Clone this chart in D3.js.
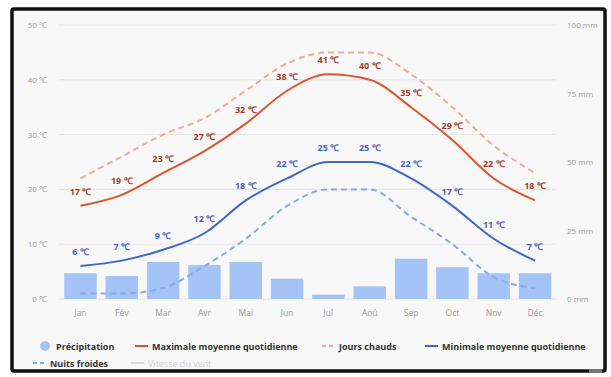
<!DOCTYPE html>
<html>
<head>
<meta charset="utf-8">
<script src="https://cdn.jsdelivr.net/npm/d3@7"></script>
<style>
  body { margin: 0; background: #fff; font-family: "Open Sans", sans-serif; }
  .tick line { display: none; }
  .domain { display: none; }
</style>
</head>
<body>
<script>
var w = 611,
  h = 377;

var months = ['Jan', 'Fév', 'Mar', 'Avr', 'Mai', 'Jun', 'Jul', 'Aoû', 'Sep', 'Oct', 'Nov', 'Déc'];
var precip = [9.4, 8.4, 13.5, 12.4, 13.5, 7.4, 1.6, 4.6, 14.7, 11.6, 9.4, 9.4];
var maxTemp = [17, 19, 23, 27, 32, 38, 41, 40, 35, 29, 22, 18];
var minTemp = [6, 7, 9, 12, 18, 22, 25, 25, 22, 17, 11, 7];
var hotDays = [22, 26, 30, 33, 38, 43, 45, 45, 41, 35, 28, 23];
var coldNights = [1, 1, 2, 6, 11, 17, 20, 20, 15, 10, 4, 2];
var tempTicks = [0, 10, 20, 30, 40, 50];
var rainTicks = [0, 25, 50, 75, 100];

var svg = d3.select('body').append('svg')
  .attr('width', w)
  .attr('height', h);

// frame
svg.append('rect')
  .attr('x', 12).attr('y', 9)
  .attr('width', 593).attr('height', 362)
  .attr('rx', 2)
  .attr('fill', '#f8f8f8')
  .attr('stroke', '#111')
  .attr('stroke-width', 3.5);
svg.append('rect')
  .attr('x', 589).attr('y', 369).attr('width', 13).attr('height', 4)
  .attr('fill', '#777');

var x = d3.scaleBand()
  .domain(months)
  .range([59.8, 555.7])
  .paddingInner(0.215)
  .paddingOuter(0.1075);

var y = d3.scaleLinear().domain([0, 50]).range([299, 25]);
var yRain = d3.scaleLinear().domain([0, 100]).range([299, 25]);

var cx = function (d, i) { return x(months[i]) + x.bandwidth() / 2; };

// grid
svg.append('g').selectAll('line')
  .data(tempTicks)
  .enter().append('line')
  .attr('x1', 59).attr('x2', 556)
  .attr('y1', function (d) { return y(d); })
  .attr('y2', function (d) { return y(d); })
  .attr('stroke', '#e4e4e4')
  .attr('stroke-width', 1);

// axes
var left = svg.append('g')
  .attr('transform', 'translate(50,0)')
  .call(d3.axisLeft(y).tickValues(tempTicks).tickSize(0).tickPadding(3)
    .tickFormat(function (d) { return d + ' ℃'; }));
var right = svg.append('g')
  .attr('transform', 'translate(564,0)')
  .call(d3.axisRight(yRain).tickValues(rainTicks).tickSize(0).tickPadding(3)
    .tickFormat(function (d) { return d + ' mm'; }));
var bottom = svg.append('g')
  .attr('transform', 'translate(0,307)')
  .call(d3.axisBottom(x).tickSize(0).tickPadding(3));

[left, right, bottom].forEach(function (a) {
  a.selectAll('text')
    .attr('fill', '#9a9a9a')
    .style('font-family', '"Open Sans", sans-serif')
    .style('font-size', '8px');
});
bottom.selectAll('text').style('font-size', '8.5px');

// bars
svg.append('g').selectAll('rect')
  .data(precip)
  .enter().append('rect')
  .attr('x', function (d, i) { return x(months[i]); })
  .attr('y', function (d) { return yRain(d); })
  .attr('width', x.bandwidth())
  .attr('height', function (d) { return yRain(0) - yRain(d); })
  .attr('fill', '#a4c3f6');

var line = d3.line()
  .x(cx)
  .y(function (d) { return y(d); })
  .curve(d3.curveMonotoneX);

var series = [
  { data: coldNights, color: '#88aae6', dash: '6,4' },
  { data: hotDays, color: '#f3a89b', dash: '6,4' },
  { data: minTemp, color: '#4166c9', dash: null },
  { data: maxTemp, color: '#dc5430', dash: null }
];

series.forEach(function (s) {
  svg.append('path')
    .datum(s.data)
    .attr('d', line)
    .attr('fill', 'none')
    .attr('stroke', s.color)
    .attr('stroke-width', 2)
    .attr('stroke-dasharray', s.dash);
});

// value labels
var labelSets = [
  { data: maxTemp, color: '#a0412a' },
  { data: minTemp, color: '#4b62c2' }
];
labelSets.forEach(function (s) {
  svg.append('g').selectAll('text')
    .data(s.data)
    .enter().append('text')
    .attr('x', cx)
    .attr('y', function (d) { return y(d) - 11; })
    .attr('text-anchor', 'middle')
    .attr('fill', s.color)
    .style('font-size', '9px')
    .style('font-weight', 'bold')
    .text(function (d) { return d + ' ℃'; });
});

// legend
var legend = [
  { name: 'Précipitation', type: 'dot', color: '#a4c3f6', x: 40, y: 346 },
  { name: 'Maximale moyenne quotidienne', type: 'line', color: '#dc5430', x: 135, y: 346 },
  { name: 'Jours chauds', type: 'dash', color: '#f3a89b', x: 322, y: 346 },
  { name: 'Minimale moyenne quotidienne', type: 'line', color: '#4166c9', x: 425, y: 346 },
  { name: 'Nuits froides', type: 'dash', color: '#88aae6', x: 33, y: 363 },
  { name: 'Vitesse du vent', type: 'line', color: '#d8d8d8', x: 131, y: 363, faded: true }
];

var lg = svg.append('g').selectAll('g')
  .data(legend)
  .enter().append('g')
  .attr('transform', function (d) { return 'translate(' + [d.x, d.y] + ')'; });

lg.filter(function (d) { return d.type === 'dot'; })
  .append('circle')
  .attr('cx', 5).attr('cy', 0).attr('r', 5)
  .attr('fill', function (d) { return d.color; });

lg.filter(function (d) { return d.type !== 'dot'; })
  .append('line')
  .attr('x1', 0).attr('x2', 13)
  .attr('y1', 0).attr('y2', 0)
  .attr('stroke', function (d) { return d.color; })
  .attr('stroke-width', 2)
  .attr('stroke-dasharray', function (d) { return d.type === 'dash' ? '4,3' : null; });

lg.append('text')
  .attr('x', function (d) { return d.type === 'dot' ? 16 : 17; })
  .attr('y', 3.5)
  .attr('fill', function (d) { return d.faded ? '#cfcfcf' : '#333'; })
  .style('font-size', '9px')
  .style('font-weight', function (d) { return d.faded ? 'normal' : 'bold'; })
  .text(function (d) { return d.name; });
</script>
</body>
</html>
